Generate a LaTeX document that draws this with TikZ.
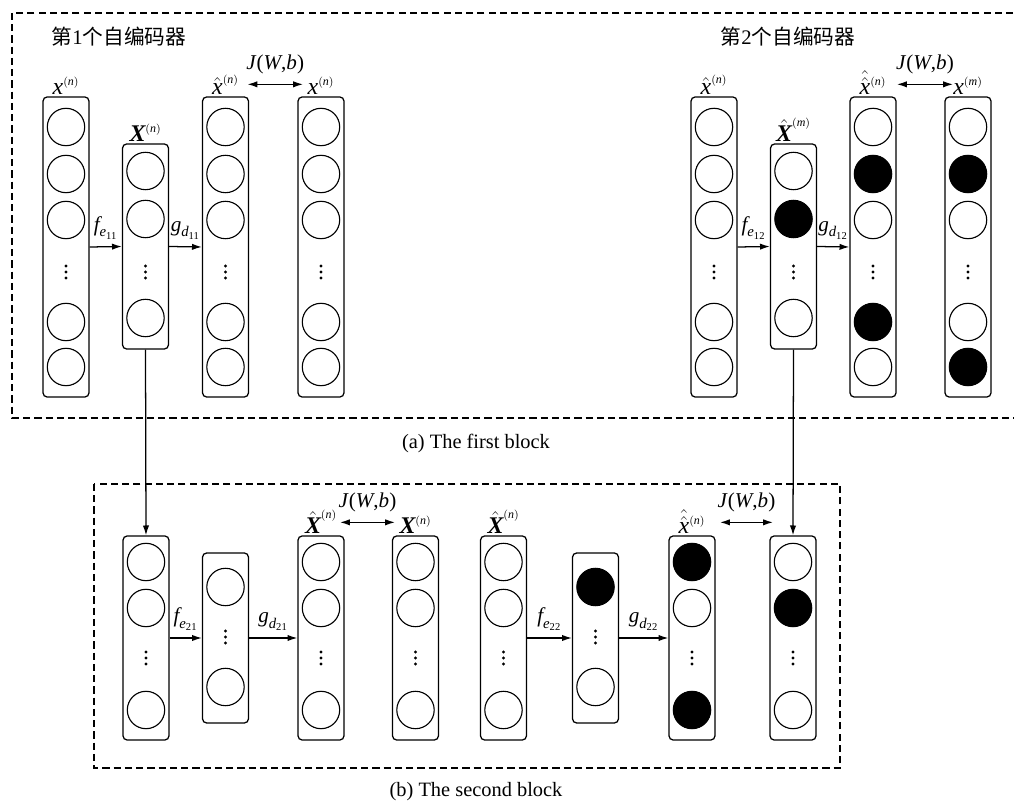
\documentclass[tikz,border=0pt]{standalone}
\usepackage{amsmath}
\usepackage{fontspec}
\setmainfont{Liberation Serif}
\newfontfamily\cjk{Noto Sans CJK SC}
\usetikzlibrary{positioning,arrows.meta}

\newcommand{\lit}[1]{\text{\itshape #1}}
\newcommand{\lbf}[1]{\text{\bfseries\itshape #1}}
\newcommand{\hatX}{\hat{\lbf{X}}}
\newcommand{\lsup}[1]{^{\scriptscriptstyle(\lit{#1})}}
\newcommand{\fenc}[1]{\lit{f}_{\lit{e}_{\text{#1}}}}
\newcommand{\gdec}[1]{\lit{g}_{\lit{d}_{\text{#1}}}}
\newcommand{\cost}{\textit{J}(\textit{W},\textit{b})}

\tikzset{
  layer/.style={draw, rounded corners=3pt, line width=0.9pt, minimum width=1.15cm, inner sep=0pt},
  tall/.style={layer, minimum height=7.5cm},
  short/.style={layer, minimum height=5.125cm},
  lowtall/.style={layer, minimum height=5.1cm},
  lowshort/.style={layer, minimum height=4.25cm},
  neuron/.style={circle, draw, line width=0.8pt, minimum size=0.935cm, inner sep=0pt},
  blockbox/.style={line width=0.9pt, dash pattern=on 5pt off 3pt},
  lab/.style={inner sep=1pt, font=\fontsize{17}{19}\selectfont},
  maplab/.style={inner sep=1pt, font=\fontsize{15}{17}\selectfont},
  costlab/.style={inner sep=1pt, font=\fontsize{15}{17}\selectfont},
  title/.style={inner sep=0pt, font=\fontsize{14.7}{17}\selectfont},
  caption/.style={inner sep=0pt, font=\fontsize{14.5}{17}\selectfont},
  conn/.style={-{Latex[length=7pt,width=4.5pt]}, line width=0.9pt},
  cost/.style={{Latex[length=7pt,width=4.5pt]}-{Latex[length=7pt,width=4.5pt]}, line width=0.9pt},
}

\begin{document}
\begin{tikzpicture}[x=0.025cm, y=-0.025cm]
\useasboundingbox (0,0) rectangle (1014,806);

% FIRST BLOCK
\draw[blockbox] (12,13) rectangle (1030,418);
\node[title] (t1) at (119,37) {{\cjk 第}1{\cjk 个自编码器}};
\node[title] (t2) at (788,37) {{\cjk 第}2{\cjk 个自编码器}};

% first autoencoder
\node[tall] (a1) at (66,247) {};
\node[short] (a2) at (145.5,246.5) {};
\node[tall] (a3) at (225.5,247) {};
\node[tall] (a4) at (321,247) {};

% second autoencoder
\node[tall] (a5) at (714,247) {};
\node[short] (a6) at (793.5,246.5) {};
\node[tall] (a7) at (873,247) {};
\node[tall] (a8) at (968,247) {};

% units
\foreach \c/\x in {a1/66, a3/225.5, a4/321, a5/714}
  \foreach \y [count=\i] in {127,174,220,322,367}
    \node[neuron] (\c-\i) at (\x,\y) {};
\foreach \y/\f [count=\i] in {171/white, 219/white, 318/white}
  \node[neuron, fill=\f] (a2-\i) at (145.5,\y) {};
\foreach \y/\f [count=\i] in {171/white, 219/black, 318/white}
  \node[neuron, fill=\f] (a6-\i) at (793.5,\y) {};
\foreach \y/\f [count=\i] in {127/white, 174/black, 220/white, 322/black, 367/white}
  \node[neuron, fill=\f] (a7-\i) at (873,\y) {};
\foreach \y/\f [count=\i] in {127/white, 174/black, 220/white, 322/white, 367/black}
  \node[neuron, fill=\f] (a8-\i) at (968,\y) {};
\foreach \x in {66, 145.5, 225.5, 321, 714, 793.5, 873, 968}
  \foreach \d in {-6,0,6}
    \fill ({\x},{272+\d}) circle (1.1pt);

% labels
\node[lab, above=0pt of a1] (la1) {$\lit{x}\lsup{n}$};
\node[lab, above=0pt of a2] (la2) {$\lbf{X}\lsup{n}$};
\node[lab, above=0pt of a3] (la3) {$\hat{\lit{x}}\lsup{n}$};
\node[lab, above=0pt of a4] (la4) {$\lit{x}\lsup{n}$};
\node[lab, above=0pt of a5] (la5) {$\hat{\lit{x}}\lsup{n}$};
\node[lab, above=0pt of a6] (la6) {$\hatX\lsup{m}$};
\node[lab, above=0pt of a7] (la7) {$\hat{\hat{\lit{x}}}\lsup{n}$};
\node[lab, above=0pt of a8] (la8) {$\lit{x}\lsup{m}$};

% encoder / decoder
\draw[conn] (a1.east) -- node[maplab, above=4pt] (f11) {$\fenc{11}$} (a2.west);
\draw[conn] (a2.east) -- node[maplab, above=4pt] (g11) {$\gdec{11}$} (a3.west);
\draw[conn] (a5.east) -- node[maplab, above=4pt] (f12) {$\fenc{12}$} (a6.west);
\draw[conn] (a6.east) -- node[maplab, above=4pt] (g12) {$\gdec{12}$} (a7.west);

% reconstruction cost
\draw[cost] ([shift={(22,-12)}]a3.north) -- node[costlab, above=6pt] (j1) {\cost} ([shift={(-18,-12)}]a4.north);
\draw[cost] ([shift={(24,-12)}]a7.north) -- node[costlab, above=6pt] (j2) {\cost} ([shift={(-15,-12)}]a8.north);

\node[caption] (capa) at (476,443) {(a) The first block};

% SECOND BLOCK
\draw[blockbox] (94,484) rectangle (840,768);

\node[lowtall] (b1) at (146,638) {};
\node[lowshort] (b2) at (225.5,638) {};
\node[lowtall] (b3) at (321,638) {};
\node[lowtall] (b4) at (415.5,638) {};
\node[lowtall] (b5) at (503.5,638) {};
\node[lowshort] (b6) at (595.5,638) {};
\node[lowtall] (b7) at (692,638) {};
\node[lowtall] (b8) at (793,638) {};

% units
\foreach \c/\x in {b1/146, b3/321, b4/415.5, b5/503.5}
  \foreach \y [count=\i] in {562,608,710}
    \node[neuron] (\c-\i) at (\x,\y) {};
\foreach \y/\f [count=\i] in {587/white, 687/white}
  \node[neuron, fill=\f] (b2-\i) at (225.5,\y) {};
\foreach \y/\f [count=\i] in {587/black, 687/white}
  \node[neuron, fill=\f] (b6-\i) at (595.5,\y) {};
\foreach \y/\f [count=\i] in {562/black, 608/white, 710/black}
  \node[neuron, fill=\f] (b7-\i) at (692,\y) {};
\foreach \y/\f [count=\i] in {562/white, 608/black, 710/white}
  \node[neuron, fill=\f] (b8-\i) at (793,\y) {};
\foreach \x in {146, 321, 415.5, 503.5, 692, 793}
  \foreach \d in {-6,0,6}
    \fill ({\x},{658+\d}) circle (1.1pt);
\foreach \x in {225.5, 595.5}
  \foreach \d in {-6,0,6}
    \fill ({\x},{637+\d}) circle (1.1pt);

% labels
\node[lab, above=0pt of b3] (lb3) {$\hatX\lsup{n}$};
\node[lab, above=0pt of b4] (lb4) {$\lbf{X}\lsup{n}$};
\node[lab, above=0pt of b5] (lb5) {$\hatX\lsup{n}$};
\node[lab, above=0pt of b7] (lb7) {$\hat{\hat{\lit{x}}}\lsup{n}$};

% encoder / decoder
\draw[conn] (b1.east) -- node[maplab, above=4pt] (f21) {$\fenc{21}$} (b2.west);
\draw[conn] (b2.east) -- node[maplab, above=4pt] (g21) {$\gdec{21}$} (b3.west);
\draw[conn] (b5.east) -- node[maplab, above=4pt] (f22) {$\fenc{22}$} (b6.west);
\draw[conn] (b6.east) -- node[maplab, above=4pt] (g22) {$\gdec{22}$} (b7.west);

% reconstruction cost
\draw[cost] ([shift={(19,-13)}]b3.north) -- node[costlab, above=6pt] (j3) {\cost} ([shift={(-20.5,-13)}]b4.north);
\draw[cost] ([shift={(28,-13)}]b7.north) -- node[costlab, above=6pt] (j4) {\cost} ([shift={(-20,-13)}]b8.north);

% hidden codes feed the second block
\draw[conn] (a2.south) -- (b1.north);
\draw[conn] (a6.south) -- (b8.north);

\node[caption] (capb) at (476,792) {(b) The second block};
\end{tikzpicture}
\end{document}
